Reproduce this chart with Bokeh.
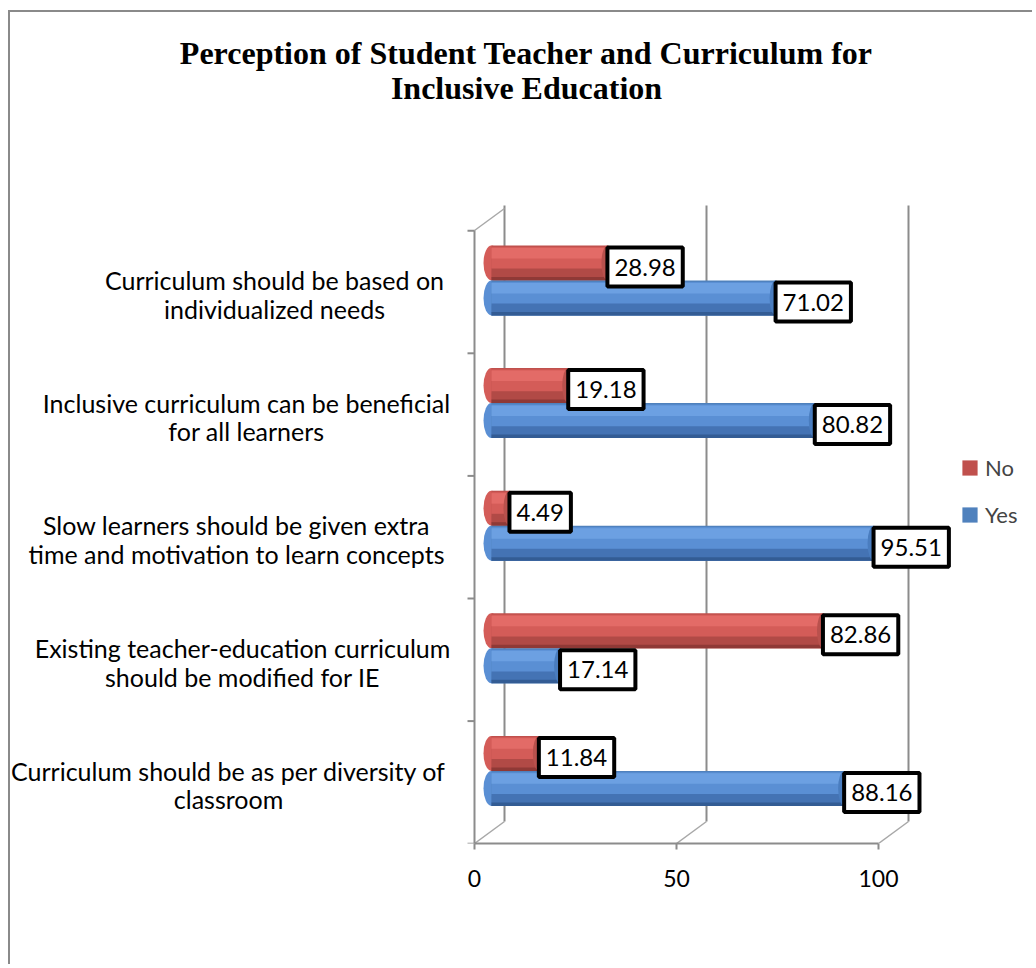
from bokeh.plotting import figure
from bokeh.models import Range1d, FixedTicker, Legend, LegendItem
from bokeh.core.properties import value
from bokeh.embed import file_html
from bokeh.resources import INLINE

# ---------------- data ----------------
categories = [
    "Curriculum should be based on\nindividualized needs",
    "Inclusive curriculum can be beneficial\nfor all learners",
    "Slow learners should be given extra\ntime and motivation to learn concepts",
    "Existing teacher-education curriculum\nshould be modified for IE",
    "Curriculum should be as per diversity of\nclassroom",
]
no_values = [28.98, 19.18, 4.49, 82.86, 11.84]
yes_values = [71.02, 80.82, 95.51, 17.14, 88.16]
series_names = ["No", "Yes"]
x_ticks = [0, 50, 100]
title_lines = ["Perception of Student Teacher and Curriculum for", "Inclusive Education"]

# ---------------- layout (page pixels) ----------------
OX, OY = 10, 12            # canvas offset on page (margin + border)
W, H = 1024, 954
FRONT0, FRONT_S = 474.0, 4.04   # front plane: px of value 0, px per unit
BAR0, BAR_S = 491.0, 4.0        # bar plane (mid depth)
Y0, Y_S = 291.5, 122.6          # first category centre, px per category
BASE_Y = 843.0                  # front floor line
WALL_TOP = 205.0
LEFT_TOP = 230.0
DEPTH_X, DEPTH_Y = 30.0, -22.0
LABEL_CX = [274, 246, 236, 242, 228]


def fx(px):
    return (px - FRONT0) / FRONT_S


def fy(py):
    return (py - Y0) / Y_S


p = figure(
    width=W, height=H, output_backend="svg", toolbar_location=None,
    x_range=Range1d(fx(OX), fx(OX + W)),
    y_range=Range1d(fy(BASE_Y), fy(OY)),
    y_axis_location=None,
    min_border=0, min_border_left=0, min_border_right=0, min_border_top=0,
    min_border_bottom=int(OY + H - BASE_Y),
)
p.extra_x_ranges = {"bar": Range1d((OX - BAR0) / BAR_S, (OX + W - BAR0) / BAR_S)}
p.styles = {"margin-left": "8px", "margin-top": "10px",
            "border-left": "2px solid #8a8a8a", "border-top": "2px solid #8a8a8a"}
p.outline_line_color = None
p.background_fill_color = "white"
p.border_fill_color = "white"
p.xgrid.visible = False
p.ygrid.visible = False

ax = p.xaxis[0]
ax.ticker = FixedTicker(ticks=x_ticks)
ax.bounds = (x_ticks[0], x_ticks[-1])
ax.axis_line_color = "#8c8c8c"
ax.axis_line_width = 2
ax.major_tick_line_color = "#8c8c8c"
ax.major_tick_line_width = 2
ax.major_tick_in = 0
ax.major_tick_out = 6
ax.minor_tick_line_color = None
ax.major_label_text_font = "Lato"
ax.major_label_text_font_size = "23px"
ax.major_label_text_color = "black"
ax.major_label_standoff = 20

# ---------------- 3D frame ----------------
ddx = DEPTH_X / FRONT_S
ddy = DEPTH_Y / Y_S
grid_col = "#8c8c8c"
diag_col = "#a8a8a8"
p.segment(x0=[t + ddx for t in x_ticks], y0=[fy(WALL_TOP)] * len(x_ticks),
          x1=[t + ddx for t in x_ticks], y1=[fy(BASE_Y) + ddy] * len(x_ticks),
          line_color=grid_col, line_width=2)
p.segment(x0=x_ticks, y0=[fy(BASE_Y)] * len(x_ticks),
          x1=[t + ddx for t in x_ticks], y1=[fy(BASE_Y) + ddy] * len(x_ticks),
          line_color=diag_col, line_width=1.5)
p.segment(x0=[0], y0=[fy(LEFT_TOP)], x1=[ddx], y1=[fy(LEFT_TOP) + ddy],
          line_color=diag_col, line_width=1.5)
p.segment(x0=[0], y0=[fy(LEFT_TOP)], x1=[0], y1=[fy(BASE_Y)],
          line_color=grid_col, line_width=2)
bounds = [i - 0.5 for i in range(len(categories) + 1)]
p.segment(x0=[fx(467)] * len(bounds), y0=bounds, x1=[0] * len(bounds), y1=bounds,
          line_color=grid_col, line_width=2)

# ---------------- cylinders ----------------
h = 35.0 / Y_S
idx = list(range(len(categories)))
no_y = [k + (-29.0) / Y_S for k in idx]
yes_y = [k + 6.0 / Y_S for k in idx]

styles = {
    "No": dict(legend="#c0504d", mid="#d45c58", top="#e36b67", bot="#b14a46",
               edge="#8f3936", cap="#b9514d"),
    "Yes": dict(legend="#4f81bd", mid="#5a8fd4", top="#6ca0e2", bot="#4473b4",
                edge="#335c94", cap="#4a7dbf"),
}
legend_renderers = {}
for name, vals, ys in (("No", no_values, no_y), ("Yes", yes_values, yes_y)):
    c = styles[name]
    zeros = [0] * len(vals)
    p.ellipse(x=zeros, y=ys, width=16 / BAR_S, height=h, fill_color=c["mid"],
              line_color=None, x_range_name="bar")
    legend_renderers[name] = p.hbar(y=ys, left=zeros, right=vals, height=h,
                                    fill_color=c["legend"], line_color=None,
                                    x_range_name="bar")
    p.hbar(y=[y - h / 2 + 0.38 * h for y in ys], left=zeros, right=vals, height=0.68 * h,
           fill_color=c["mid"], line_color=None, x_range_name="bar")
    p.hbar(y=[y - h / 2 + 0.22 * h for y in ys], left=zeros, right=vals, height=0.3 * h,
           fill_color=c["top"], line_color=None, x_range_name="bar")
    p.hbar(y=[y + h / 2 - 0.17 * h for y in ys], left=zeros, right=vals, height=0.34 * h,
           fill_color=c["bot"], line_color=None, x_range_name="bar")
    p.hbar(y=[y + h / 2 - 0.05 * h for y in ys], left=zeros, right=vals, height=0.1 * h,
           fill_color=c["edge"], line_color=None, x_range_name="bar")
    p.ellipse(x=vals, y=ys, width=12 / BAR_S, height=h, fill_color=c["cap"],
              line_color=None, x_range_name="bar")

# ---------------- value labels ----------------
for vals, ys in ((no_values, no_y), (yes_values, yes_y)):
    p.text(x=vals, y=[y + 4.0 / Y_S for y in ys], text=[f"{v:.2f}" for v in vals],
           x_range_name="bar", text_align="left", text_baseline="middle",
           text_font=value("Lato"), text_font_size="24px", text_color="black",
           background_fill_color="white", border_line_color="black",
           border_line_width=4, padding=(7, 11))

# ---------------- category labels ----------------
p.text(x=[fx(c) for c in LABEL_CX], y=[k + 0.02 for k in idx], text=categories,
       text_align="center", text_baseline="middle", text_font=value("Lato"),
       text_font_size="25px", text_color="black", text_line_height=0.95)

# ---------------- title ----------------
p.text(x=[fx(526)], y=[fy(70)], text=["\n".join(title_lines)],
       text_align="center", text_baseline="middle",
       text_font=value("Liberation Serif"), text_font_style="bold",
       text_font_size="32px", text_color="black", text_line_height=0.96)

# ---------------- legend ----------------
legend = Legend(
    items=[LegendItem(label=series_names[0], renderers=[legend_renderers["No"]]),
           LegendItem(label=series_names[1], renderers=[legend_renderers["Yes"]])],
    location=(950, 315), glyph_width=19, glyph_height=19, label_height=26,
    label_text_font="Lato", label_text_font_size="22px", label_standoff=6,
    spacing=20, padding=0, margin=0, border_line_color=None,
    background_fill_alpha=0,
)
p.add_layout(legend)

open("out.html", "w").write(file_html(p, INLINE))
